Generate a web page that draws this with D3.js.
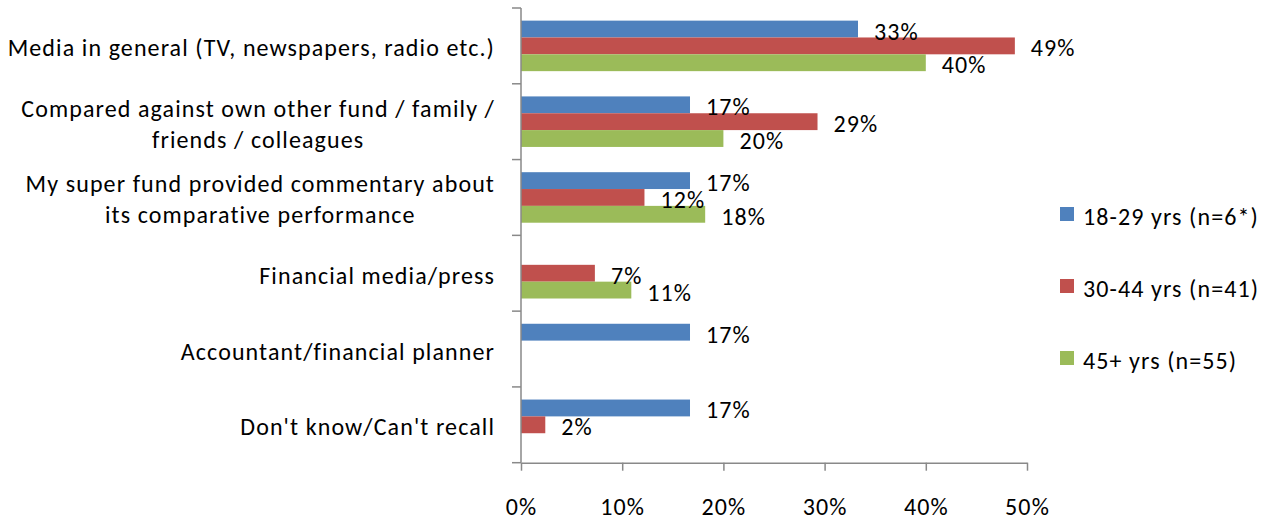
<!DOCTYPE html>
<html>
<head>
<meta charset="utf-8">
<script src="https://cdn.jsdelivr.net/npm/d3@7"></script>
<style>
  html, body { margin: 0; padding: 0; background: #ffffff; }
  svg { display: block; }
  text { font-family: Carlito, Calibri, Lato, "Noto Sans", sans-serif; fill: #000; letter-spacing: 1.1px; }
</style>
</head>
<body>
<svg id="chart" width="1271" height="520"></svg>
<script>
// ---- data ----
const categories = [
  "Media in general (TV, newspapers, radio etc.)",
  "Compared against own other fund / family / friends / colleagues",
  "My super fund provided commentary about its comparative performance",
  "Financial media/press",
  "Accountant/financial planner",
  "Don't know/Can't recall"
];
const categoryLines = [
  ["Media in general (TV, newspapers, radio etc.)"],
  ["Compared against own other fund / family /", "friends / colleagues"],
  ["My super fund provided commentary about", "its comparative performance"],
  ["Financial media/press"],
  ["Accountant/financial planner"],
  ["Don't know/Can't recall"]
];
const seriesNames = ["18-29 yrs (n=6*)", "30-44 yrs (n=41)", "45+ yrs (n=55)"];
const seriesColors = ["#4F81BD", "#C0504D", "#9BBB59"];
const values18to29 = [33.3, 16.7, 16.7, 0, 16.7, 16.7];
const values30to44 = [48.8, 29.3, 12.2, 7.3, 0, 2.4];
const values45plus = [40.0, 20.0, 18.2, 10.9, 0, 0];
const xTicks = [0, 10, 20, 30, 40, 50];

const seriesValues = [values18to29, values30to44, values45plus];

// ---- layout ----
const svg = d3.select("#chart");
const FONT = 24;
const axisColor = "#898989";

const x = d3.scaleLinear().domain([0, 50]).range([521, 1027]);
const y = d3.scaleBand().domain(categories).range([8, 462.7]).paddingInner(0).paddingOuter(0);
const ySub = d3.scaleBand().domain(seriesNames).range([0, y.bandwidth()])
  .paddingInner(0).paddingOuter(0.75).align(0.5);

// bars
const data = [];
categories.forEach((c, ci) => {
  seriesNames.forEach((s, si) => {
    data.push({ cat: c, series: s, si: si, value: seriesValues[si][ci] });
  });
});

const g = svg.append("g");
g.selectAll("rect.bar")
  .data(data.filter(d => d.value > 0))
  .join("rect")
  .attr("class", "bar")
  .attr("x", x(0))
  .attr("y", d => y(d.cat) + ySub(d.series))
  .attr("width", d => x(d.value) - x(0))
  .attr("height", ySub.bandwidth())
  .attr("fill", d => seriesColors[d.si]);

// value labels
g.selectAll("text.val")
  .data(data.filter(d => d.value > 0))
  .join("text")
  .attr("class", "val")
  .attr("x", d => x(d.value) + 16)
  .attr("y", d => y(d.cat) + ySub(d.series) + ySub.bandwidth() / 2 + 2)
  .attr("dominant-baseline", "central")
  .attr("font-size", FONT)
  .text(d => Math.round(d.value) + "%");

// x axis
const xAxis = d3.axisBottom(x)
  .tickValues(xTicks)
  .tickFormat(d => d + "%")
  .tickSize(8)
  .tickSizeOuter(0);
const xg = svg.append("g").attr("transform", `translate(0,${y.range()[1]})`).call(xAxis);
xg.attr("font-family", null).attr("font-size", null);
xg.select(".domain").attr("stroke", axisColor).attr("stroke-width", 1.5);
xg.selectAll(".tick line").attr("stroke", axisColor).attr("stroke-width", 1.5);
xg.selectAll(".tick text")
  .attr("font-size", FONT)
  .attr("fill", "#000")
  .attr("y", 45)
  .attr("dy", "0.32em");

// y axis line + category separator ticks
const yg = svg.append("g");
yg.append("line")
  .attr("x1", x(0)).attr("x2", x(0))
  .attr("y1", y.range()[0]).attr("y2", y.range()[1])
  .attr("stroke", axisColor).attr("stroke-width", 1.5);
const boundaries = categories.map(c => y(c)).concat([y.range()[1]]);
yg.selectAll("line.sep")
  .data(boundaries)
  .join("line")
  .attr("class", "sep")
  .attr("x1", x(0) - 9).attr("x2", x(0))
  .attr("y1", d => d).attr("y2", d => d)
  .attr("stroke", axisColor).attr("stroke-width", 1.5);

// category labels
const labelRight = 495;
const lineH = 31;
categories.forEach((c, ci) => {
  const lines = categoryLines[ci];
  const cy = y(c) + y.bandwidth() / 2 + 2;
  const t = svg.append("text").attr("font-size", FONT);
  lines.forEach((ln) => {
    t.append("tspan").text(ln);
  });
  const widths = [];
  t.selectAll("tspan").each(function () { widths.push(this.getComputedTextLength()); });
  const maxW = d3.max(widths);
  const cx = lines.length > 1 ? labelRight - maxW / 2 : labelRight;
  t.attr("text-anchor", lines.length > 1 ? "middle" : "end");
  t.selectAll("tspan")
    .attr("x", cx)
    .attr("y", (d, li) => cy + (li - (lines.length - 1) / 2) * lineH)
    .attr("dominant-baseline", "central");
});

// legend
const legendY = [214, 286, 358];
const lg = svg.append("g");
seriesNames.forEach((s, si) => {
  lg.append("rect")
    .attr("x", 1060).attr("y", legendY[si] - 7)
    .attr("width", 14).attr("height", 14)
    .attr("fill", seriesColors[si]);
  lg.append("text")
    .attr("x", 1083).attr("y", legendY[si] + 2)
    .attr("dominant-baseline", "central")
    .attr("font-size", FONT)
    .text(s);
});
</script>
</body>
</html>
